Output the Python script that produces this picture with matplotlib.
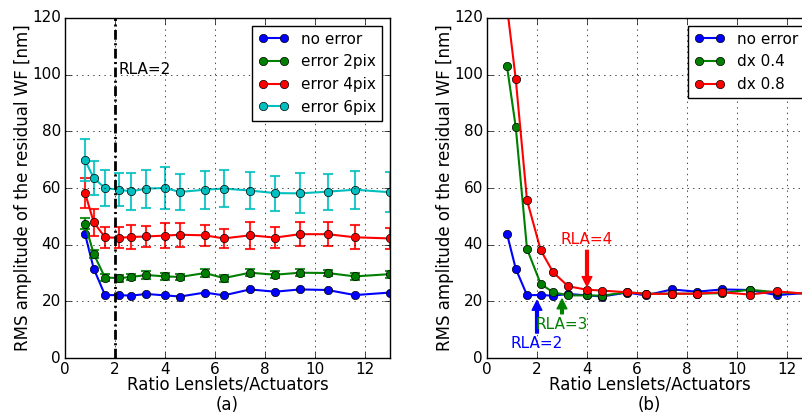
import matplotlib
matplotlib.use("Agg")
import matplotlib.pyplot as plt

# ratio lenslets / actuators (same grid for both panels)
ratio = [0.8, 1.15, 1.6, 2.15, 2.65, 3.25, 4.0, 4.6, 5.6, 6.35, 7.4, 8.4, 9.4, 10.5, 11.6, 13.0]

# (a) centroid error
no_error = [43.8, 31.5, 22.2, 22.2, 22.0, 22.6, 22.1, 21.7, 23.1, 22.1, 24.2, 23.4, 24.2, 24.0, 22.2, 23.1]
err2 = [47.4, 36.7, 28.4, 28.2, 28.6, 29.3, 28.8, 28.6, 30.0, 28.2, 30.1, 29.4, 30.1, 30.0, 28.8, 29.6]
err2_sd = [2.0, 1.5, 1.2, 1.2, 1.2, 1.3, 1.2, 1.2, 1.3, 1.2, 1.3, 1.2, 1.3, 1.2, 1.3, 1.2]
err4 = [58.3, 47.9, 42.6, 42.4, 42.7, 42.9, 43.2, 43.5, 43.3, 42.2, 43.3, 42.5, 43.7, 43.7, 42.6, 42.2]
err4_sd = [5.3, 4.7, 3.8, 3.7, 4.2, 3.6, 4.4, 4.3, 3.8, 3.5, 4.7, 3.6, 4.3, 4.3, 4.3, 3.8]
err6 = [69.8, 63.5, 60.0, 59.4, 58.8, 59.8, 60.0, 58.6, 59.4, 59.8, 59.1, 58.2, 58.1, 58.7, 59.4, 58.5]
err6_sd = [7.5, 6.0, 6.4, 5.9, 6.4, 6.7, 7.5, 6.5, 6.7, 6.5, 6.6, 6.2, 7.1, 6.3, 6.7, 7.0]

# (b) misalignment
dx04 = [102.9, 81.5, 38.5, 26.1, 23.2, 22.1, 22.1, 22.0, 23.2, 22.7, 22.7, 22.7, 22.9, 24.1, 23.2, 22.7]
dx08 = [124.0, 98.4, 55.7, 38.0, 30.2, 25.3, 24.1, 23.8, 23.2, 22.6, 22.7, 22.7, 23.2, 22.4, 23.5, 22.5]

plt.style.use("classic")
plt.rcParams["font.family"] = ["DejaVu Sans"]
plt.rcParams["font.size"] = 11
plt.rcParams["axes.labelsize"] = 12
plt.rcParams["xtick.labelsize"] = 11
plt.rcParams["ytick.labelsize"] = 11
plt.rcParams["xtick.major.pad"] = 3
plt.rcParams["ytick.major.pad"] = 3
plt.rcParams["lines.scale_dashes"] = False

fig = plt.figure(figsize=(8.02, 4.19), dpi=100, facecolor="white")
ax1 = fig.add_axes([65 / 802, 61 / 419, 325 / 802, 340 / 419])
ax2 = fig.add_axes([487 / 802, 61 / 419, 325 / 802, 340 / 419])

ylab = "RMS amplitude of the residual WF [nm]"

#panel (a)
ax1.plot(ratio, no_error, "o-", color="b", lw=1.5, label="no error")
for y, sd, c, lab in [(err2, err2_sd, "g", "error 2pix"),
                      (err4, err4_sd, "r", "error 4pix"),
                      (err6, err6_sd, "c", "error 6pix")]:
    ax1.errorbar(ratio, y, yerr=sd, fmt="none", ecolor=c, elinewidth=1.5,
                 capsize=3.5, capthick=1.5, alpha=0.85)
    ax1.plot(ratio, y, "o-", color=c, lw=1.5, label=lab)
ax1.axvline(2, color="k", ls=(0, (7, 2.5, 1.5, 2.5)), lw=2)
ax1.text(2.15, 101.7, "RLA=2", va="center", fontsize=11)
ax1.set_xlim(0, 13)
ax1.set_ylim(0, 120)
ax1.grid(True)
ax1.set_ylabel(ylab, labelpad=0)
ax1.set_xlabel("Ratio Lenslets/Actuators\n(a)", linespacing=1.15, labelpad=-1)
ax1.legend(loc="upper right", fontsize=11, numpoints=2)

#panel (b)
ax2.plot(ratio, no_error, "o-", color="b", lw=1.5, label="no error")
ax2.plot(ratio, dx04, "o-", color="g", lw=1.5, label="dx 0.4")
ax2.plot(ratio, dx08, "o-", color="r", lw=1.5, label="dx 0.8")
ax2.annotate("RLA=2", xy=(2, 20.3), xytext=(2, 5), color="b", ha="center", va="center",
             fontsize=11, arrowprops=dict(facecolor="b", edgecolor="b", width=2, headwidth=7, headlength=7, shrink=0))
ax2.annotate("RLA=3", xy=(3, 20.8), xytext=(3, 11.8), color="g", ha="center", va="center",
             fontsize=11, arrowprops=dict(facecolor="g", edgecolor="g", width=2, headwidth=7, headlength=7, shrink=0))
ax2.annotate("RLA=4", xy=(4, 25.3), xytext=(4, 41.8), color="r", ha="center", va="center",
             fontsize=11, arrowprops=dict(facecolor="r", edgecolor="r", width=2, headwidth=7, headlength=7, shrink=0))
ax2.set_xlim(0, 13)
ax2.set_ylim(0, 120)
ax2.grid(True)
ax2.set_ylabel(ylab, labelpad=0)
ax2.set_xlabel("Ratio Lenslets/Actuators\n(b)", linespacing=1.15, labelpad=-1)
ax2.legend(loc="upper right", fontsize=11, numpoints=2)

plt.savefig("out.png", dpi=100, facecolor="white")
